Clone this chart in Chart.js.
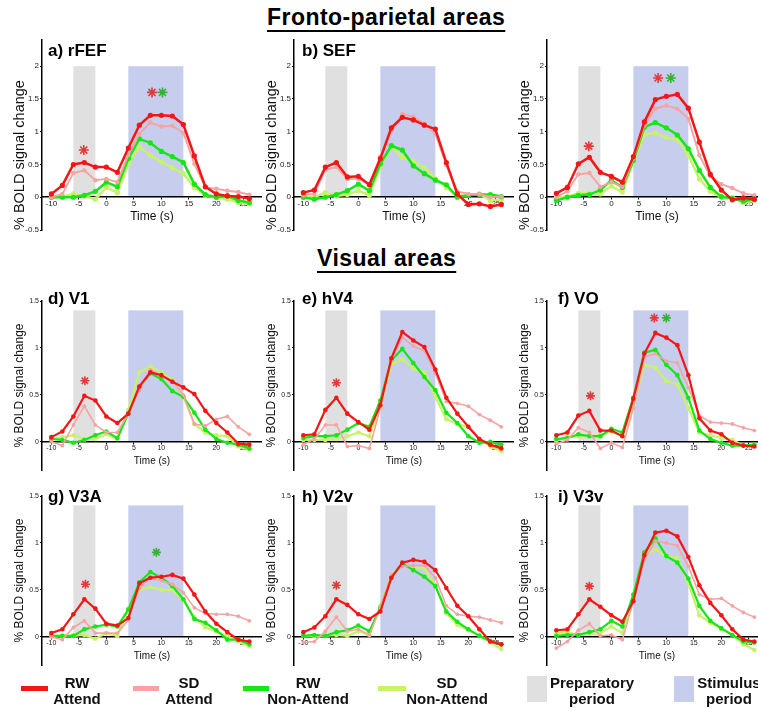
<!DOCTYPE html>
<html>
<head>
<meta charset="utf-8">
<script src="https://cdn.jsdelivr.net/npm/chart.js@4.4.1/dist/chart.umd.min.js"></script>
<style>
  body { margin: 0; width: 758px; height: 709px; background: #fff; position: relative; overflow: hidden;
         font-family: "Liberation Sans", Arial, sans-serif; color: #000; }
  .head { position: absolute; font-weight: bold; font-size: 23px; line-height: 23px; white-space: nowrap; letter-spacing: 0.45px;
          text-decoration: underline; text-decoration-thickness: 2px; text-underline-offset: 5px; }
  .ptitle { position: absolute; font-weight: bold; font-size: 17px; line-height: 17px; white-space: nowrap; }
  .panel { position: absolute; }
  .legline { position: absolute; height: 5px; }
  .legbox { position: absolute; }
  .legtext { position: absolute; width: 110px; text-align: center; font-weight: bold; font-size: 15px;
             line-height: 16px; color: #111; }
</style>
</head>
<body>
<div class="head" style="left:267px; top:6px;">Fronto-parietal areas</div>
<div class="head" style="left:317px; top:247px;">Visual areas</div>

<script>
// time axis (s)
const timePoints = [-10, -8, -6, -4, -2, 0, 2, 4, 6, 8, 10, 12, 14, 16, 18, 20, 22, 24, 26];
const xTickValues = [-10, -5, 0, 5, 10, 15, 20, 25];
const yTicksFronto = [-0.5, 0, 0.5, 1, 1.5, 2];
const yTicksVisual = [0, 0.5, 1, 1.5];
const prepPeriod = [-6, -2];
const stimPeriod = [4, 14];

// a) rFEF
const rfefRwAtt = [0.05, 0.18, 0.5, 0.53, 0.46, 0.46, 0.38, 0.75, 1.1, 1.25, 1.25, 1.24, 1.11, 0.63, 0.16, 0.05, 0.02, 0.01, -0.02];
const rfefSdAtt = [0, 0.05, 0.37, 0.41, 0.26, 0.28, 0.23, 0.65, 0.97, 1.14, 1.08, 1.09, 0.98, 0.51, 0.15, 0.13, 0.1, 0.08, 0.04];
const rfefRwNon = [0, 0, 0, 0.03, 0.09, 0.23, 0.16, 0.59, 0.89, 0.83, 0.7, 0.62, 0.53, 0.2, 0.04, 0, 0.02, -0.05, -0.08];
const rfefSdNon = [0, 0.01, 0.05, 0.02, -0.03, 0.15, 0.07, 0.51, 0.77, 0.64, 0.54, 0.45, 0.36, 0.15, 0.03, 0, -0.03, -0.08, -0.1];
// b) SEF
const sefRwAtt = [0.07, 0.11, 0.46, 0.53, 0.31, 0.32, 0.19, 0.59, 1.06, 1.22, 1.18, 1.1, 1.04, 0.53, 0.05, -0.11, -0.1, -0.14, -0.11];
const sefSdAtt = [0.03, 0.05, 0.42, 0.46, 0.28, 0.28, 0.2, 0.62, 1.02, 1.27, 1.23, 1.12, 0.97, 0.49, 0.09, 0.05, 0.05, 0, 0.01];
const sefRwNon = [0, -0.03, 0, 0.04, 0.1, 0.2, 0.1, 0.51, 0.79, 0.72, 0.48, 0.36, 0.26, 0.19, 0, 0.03, 0.04, 0.04, 0.01];
const sefSdNon = [0, 0, 0.07, 0.02, 0.04, 0.1, 0.03, 0.48, 0.77, 0.61, 0.55, 0.45, 0.28, 0.15, 0.02, 0.04, 0.05, -0.05, -0.03];
// c) (untitled third fronto-parietal panel)
const cRwAtt = [0.06, 0.15, 0.51, 0.61, 0.38, 0.32, 0.23, 0.62, 1.15, 1.49, 1.54, 1.57, 1.36, 0.84, 0.35, 0.11, -0.04, -0.01, -0.03];
const cSdAtt = [0, 0.09, 0.35, 0.37, 0.16, 0.23, 0.16, 0.59, 1.1, 1.35, 1.4, 1.35, 1.2, 0.64, 0.32, 0.2, 0.14, 0.06, 0.03];
const cRwNon = [-0.05, 0, 0.03, 0.04, 0.11, 0.26, 0.15, 0.56, 1.07, 1.14, 1.06, 0.95, 0.74, 0.41, 0.15, 0.01, -0.02, -0.06, -0.03];
const cSdNon = [0, 0.01, 0.06, 0.06, 0.05, 0.17, 0.08, 0.54, 0.96, 0.98, 0.91, 0.88, 0.64, 0.28, 0.09, 0, 0, -0.08, -0.05];
// d) V1
const v1RwAtt = [0.05, 0.11, 0.27, 0.49, 0.44, 0.27, 0.2, 0.3, 0.59, 0.74, 0.71, 0.64, 0.58, 0.51, 0.33, 0.2, 0.1, -0.02, -0.03];
const v1SdAtt = [0, -0.04, 0.18, 0.38, 0.18, 0.1, 0.1, 0.3, 0.55, 0.77, 0.71, 0.65, 0.5, 0.19, 0.17, 0.24, 0.27, 0.16, 0.08];
const v1RwNon = [0.03, 0.02, -0.01, 0.02, 0.07, 0.11, 0.04, 0.3, 0.58, 0.73, 0.67, 0.54, 0.48, 0.31, 0.13, 0.03, -0.01, -0.03, -0.07];
const v1SdNon = [0.03, 0.05, 0.07, 0.03, 0.03, 0.08, 0.03, 0.34, 0.74, 0.8, 0.74, 0.66, 0.48, 0.19, 0.1, 0.07, 0.06, -0.05, -0.08];
// e) hV4
const hv4RwAtt = [0.07, 0.08, 0.34, 0.47, 0.3, 0.21, 0.13, 0.39, 0.89, 1.17, 1.08, 1.01, 0.77, 0.47, 0.3, 0.16, 0.03, -0.03, -0.07];
const hv4SdAtt = [-0.03, 0.03, 0.18, 0.18, -0.05, -0.04, -0.07, 0.36, 0.87, 1.11, 1.02, 0.97, 0.73, 0.43, 0.41, 0.38, 0.29, 0.23, 0.16];
const hv4RwNon = [0.04, 0.06, 0.06, 0.07, 0.13, 0.2, 0.16, 0.44, 0.87, 0.99, 0.84, 0.69, 0.55, 0.31, 0.2, 0.06, -0.01, 0, -0.03];
const hv4SdNon = [0.02, 0.02, 0.02, 0.03, 0.06, 0.1, 0.06, 0.37, 0.83, 0.88, 0.78, 0.74, 0.48, 0.24, 0.19, 0.16, 0.03, -0.05, -0.1];
// f) VO
const voRwAtt = [0.07, 0.1, 0.28, 0.33, 0.12, 0.12, 0.06, 0.46, 0.94, 1.16, 1.11, 1.03, 0.71, 0.25, 0.12, 0.08, -0.01, -0.04, -0.05];
const voSdAtt = [-0.02, 0.02, 0.15, 0.1, -0.07, -0.01, -0.06, 0.36, 0.9, 0.94, 0.86, 0.84, 0.58, 0.28, 0.21, 0.2, 0.19, 0.15, 0.12];
const voRwNon = [0.03, 0.04, 0.08, 0.06, 0.06, 0.14, 0.1, 0.47, 0.95, 0.98, 0.82, 0.71, 0.47, 0.12, 0.03, -0.01, -0.04, -0.04, -0.03];
const voSdNon = [0.01, 0.06, 0.06, 0.06, 0.07, 0.11, 0.06, 0.39, 0.82, 0.79, 0.65, 0.61, 0.36, 0.1, 0.07, 0.04, 0.02, -0.04, -0.03];
// g) V3A
const v3aRwAtt = [0.04, 0.08, 0.24, 0.4, 0.3, 0.14, 0.12, 0.2, 0.57, 0.63, 0.64, 0.66, 0.62, 0.45, 0.27, 0.14, 0.05, -0.03, -0.05];
const v3aSdAtt = [0, -0.03, 0.1, 0.17, 0.04, 0.04, 0.04, 0.18, 0.52, 0.63, 0.6, 0.56, 0.47, 0.31, 0.25, 0.24, 0.24, 0.22, 0.17];
const v3aRwNon = [0.01, 0.01, 0.01, 0.08, 0.11, 0.13, 0.11, 0.29, 0.58, 0.69, 0.63, 0.54, 0.4, 0.19, 0.15, 0.07, -0.03, -0.03, -0.08];
const v3aSdNon = [0.01, 0.01, 0.01, 0.02, -0.02, 0.04, 0.01, 0.3, 0.5, 0.53, 0.5, 0.5, 0.39, 0.21, 0.1, 0.06, 0.01, -0.05, -0.1];
// h) V2v
const v2vRwAtt = [0.05, 0.1, 0.22, 0.4, 0.34, 0.24, 0.19, 0.27, 0.63, 0.79, 0.82, 0.8, 0.71, 0.52, 0.33, 0.22, 0.08, -0.05, -0.08];
const v2vSdAtt = [-0.06, -0.05, 0.06, 0.21, 0.06, 0.08, 0.02, 0.31, 0.66, 0.75, 0.76, 0.76, 0.63, 0.33, 0.24, 0.22, 0.21, 0.18, 0.15];
const v2vRwNon = [0.01, 0.02, 0.01, 0.05, 0.07, 0.12, 0.06, 0.31, 0.63, 0.78, 0.71, 0.64, 0.54, 0.27, 0.16, 0.08, 0.01, -0.05, -0.08];
const v2vSdNon = [0.01, 0.01, 0.01, 0.02, 0.01, 0.06, 0.02, 0.33, 0.66, 0.76, 0.74, 0.73, 0.55, 0.25, 0.13, 0.07, 0.02, -0.06, -0.13];
// i) V3v
const v3vRwAtt = [0.07, 0.08, 0.24, 0.4, 0.32, 0.23, 0.16, 0.38, 0.87, 1.11, 1.13, 1.07, 0.85, 0.55, 0.36, 0.23, 0.08, -0.03, -0.05];
const v3vSdAtt = [-0.12, -0.05, 0.07, 0.14, 0.01, 0.02, -0.03, 0.38, 0.82, 1.02, 1.0, 0.97, 0.75, 0.45, 0.4, 0.41, 0.33, 0.26, 0.21];
const v3vRwNon = [0.01, 0.02, 0.02, 0.05, 0.08, 0.17, 0.11, 0.45, 0.9, 1.05, 0.86, 0.79, 0.62, 0.33, 0.17, 0.09, 0.02, -0.05, -0.06];
const v3vSdNon = [0.04, 0.05, 0.02, 0.04, 0.04, 0.11, 0.04, 0.41, 0.87, 0.93, 0.86, 0.84, 0.57, 0.23, 0.15, 0.09, 0.02, -0.08, -0.14];

// significance asterisks [time, value]
const rfefRedStars = [[-4.1, 0.72], [8.3, 1.6]];
const rfefGreenStars = [[10.2, 1.6]];
const cRedStars = [[-4.1, 0.78], [8.5, 1.82]];
const cGreenStars = [[10.8, 1.82]];
const v1RedStars = [[-3.9, 0.65]];
const hv4RedStars = [[-4, 0.63]];
const voRedStars = [[-3.8, 0.49], [7.8, 1.32]];
const voGreenStars = [[10, 1.32]];
const v3aRedStars = [[-3.8, 0.56]];
const v3aGreenStars = [[9.1, 0.9]];
const v2vRedStars = [[-4, 0.55]];
const v3vRedStars = [[-4, 0.54]];

const colors = { rwAtt: '#f41616', sdAtt: '#f6a3a3', rwNon: '#16e616', sdNon: '#c8f26c',
                 prep: '#e0e0e0', stim: '#c7cdec', redStar: '#e23a3a', greenStar: '#2fb52f' };

const panels = [
  { label: 'a) rFEF', row: 0, col: 0, s: [rfefRwAtt, rfefSdAtt, rfefRwNon, rfefSdNon], red: rfefRedStars, green: rfefGreenStars },
  { label: 'b) SEF', row: 0, col: 1, s: [sefRwAtt, sefSdAtt, sefRwNon, sefSdNon], red: [], green: [] },
  { label: '', row: 0, col: 2, s: [cRwAtt, cSdAtt, cRwNon, cSdNon], red: cRedStars, green: cGreenStars },
  { label: 'd) V1', row: 1, col: 0, s: [v1RwAtt, v1SdAtt, v1RwNon, v1SdNon], red: v1RedStars, green: [] },
  { label: 'e) hV4', row: 1, col: 1, s: [hv4RwAtt, hv4SdAtt, hv4RwNon, hv4SdNon], red: hv4RedStars, green: [] },
  { label: 'f) VO', row: 1, col: 2, s: [voRwAtt, voSdAtt, voRwNon, voSdNon], red: voRedStars, green: voGreenStars },
  { label: 'g) V3A', row: 2, col: 0, s: [v3aRwAtt, v3aSdAtt, v3aRwNon, v3aSdNon], red: v3aRedStars, green: v3aGreenStars },
  { label: 'h) V2v', row: 2, col: 1, s: [v2vRwAtt, v2vSdAtt, v2vRwNon, v2vSdNon], red: v2vRedStars, green: [] },
  { label: 'i) V3v', row: 2, col: 2, s: [v3vRwAtt, v3vSdAtt, v3vRwNon, v3vSdNon], red: v3vRedStars, green: [] },
];

// layout of the grid (pixels)
const axisLeft = [42, 294, 547];
const axisWidth = 42, plotWidth = 220, pad = 10;
const rows = [
  { top: 40, bottom: 230, min: -0.5, max: 2.4, shadeTop: 2, ticks: yTicksFronto, tickSize: 8, yTitle: 14.5, yAlign: 'start', xTitle: 12, lw: 2.5, r: 2.6, star: 5, labelTop: 41.6 },
  { top: 301, bottom: 470, min: -0.3, max: 1.5, shadeTop: 1.4, ticks: yTicksVisual, tickSize: 7, yTitle: 12, yAlign: 'center', xTitle: 10, lw: 2.2, r: 2.3, star: 4.5, labelTop: 289.6 },
  { top: 496, bottom: 665, min: -0.3, max: 1.5, shadeTop: 1.4, ticks: yTicksVisual, tickSize: 7, yTitle: 12, yAlign: 'center', xTitle: 10, lw: 2.2, r: 2.3, star: 4.5, labelTop: 487.6 },
];
const titleLeft = [48, 302, 558];

const periodShading = {
  id: 'periodShading',
  beforeDraw(chart, args, opts) {
    const { ctx, scales: { x, y } } = chart;
    const y0 = y.getPixelForValue(0), y1 = y.getPixelForValue(opts.top);
    ctx.save();
    ctx.fillStyle = colors.prep;
    ctx.fillRect(x.getPixelForValue(prepPeriod[0]), y1, x.getPixelForValue(prepPeriod[1]) - x.getPixelForValue(prepPeriod[0]), y0 - y1);
    ctx.fillStyle = colors.stim;
    ctx.fillRect(x.getPixelForValue(stimPeriod[0]), y1, x.getPixelForValue(stimPeriod[1]) - x.getPixelForValue(stimPeriod[0]), y0 - y1);
    ctx.restore();
  }
};

function lineSet(values, color, width, radius) {
  return {
    data: values.map((v, i) => ({ x: timePoints[i], y: v })),
    borderColor: color, backgroundColor: color, borderWidth: width,
    pointRadius: radius, pointBackgroundColor: color, pointBorderWidth: 0, pointHoverRadius: radius,
    tension: 0
  };
}

function starSet(points, color, radius) {
  return {
    data: points.map(p => ({ x: p[0], y: p[1] })),
    showLine: false, pointStyle: 'star', pointRadius: radius, pointHoverRadius: radius,
    borderColor: color, pointBorderColor: color, pointBorderWidth: 1.6
  };
}

panels.forEach(p => {
  const R = rows[p.row];
  const div = document.createElement('div');
  div.className = 'panel';
  div.style.left = (axisLeft[p.col] - axisWidth) + 'px';
  div.style.top = (R.top - pad) + 'px';
  const canvas = document.createElement('canvas');
  canvas.width = axisWidth + plotWidth;
  canvas.height = R.bottom - R.top + 2 * pad;
  div.appendChild(canvas);
  document.body.appendChild(div);

  if (p.label) {
    const t = document.createElement('div');
    t.className = 'ptitle';
    t.style.left = titleLeft[p.col] + 'px';
    t.style.top = R.labelTop + 'px';
    t.textContent = p.label;
    document.body.appendChild(t);
  }

  new Chart(canvas.getContext('2d'), {
    type: 'line',
    data: {
      datasets: [
        starSet(p.red, colors.redStar, R.star),
        starSet(p.green, colors.greenStar, R.star),
        lineSet(p.s[0], colors.rwAtt, R.lw, R.r),
        lineSet(p.s[1], colors.sdAtt, R.lw - 0.6, R.r - 0.4),
        lineSet(p.s[2], colors.rwNon, R.lw, R.r),
        lineSet(p.s[3], colors.sdNon, R.lw, R.r),
      ]
    },
    options: {
      responsive: false,
      animation: false,
      devicePixelRatio: 1,
      layout: { autoPadding: false, padding: { top: pad, bottom: pad, left: 0, right: 0 } },
      scales: {
        x: {
          type: 'linear', min: -11.7, max: 28.3, position: { y: 0 },
          afterBuildTicks: s => { s.ticks = xTickValues.map(v => ({ value: v })); },
          afterFit: s => { s.paddingLeft = 0; s.paddingRight = 0; },
          grid: { drawOnChartArea: false, tickLength: 2, color: '#000' },
          border: { color: '#000', width: 1.5 },
          ticks: { font: { family: 'Liberation Sans', size: R.tickSize, lineHeight: 1 }, color: '#222',
                   padding: 1, maxRotation: 0, autoSkip: false, callback: v => String(v) },
          title: { display: true, text: 'Time (s)', color: '#111',
                   font: { family: 'Liberation Sans', size: R.xTitle }, padding: { top: p.row ? 2 : 0, bottom: 0 } }
        },
        y: {
          min: R.min, max: R.max,
          afterBuildTicks: s => { s.ticks = R.ticks.map(v => ({ value: v })); },
          afterFit: s => { s.width = axisWidth; s.paddingTop = 0; s.paddingBottom = 0; },
          grid: { drawOnChartArea: false, tickLength: 2, color: '#000' },
          border: { color: '#000', width: 1.5 },
          ticks: { font: { family: 'Liberation Sans', size: R.tickSize }, color: '#222', padding: 1,
                   callback: v => String(v) },
          title: { display: true, text: '% BOLD signal change', align: R.yAlign, color: '#111',
                   font: { family: 'Liberation Sans', size: R.yTitle },
                   padding: { top: 20 - R.yTitle * 0.6, bottom: 0 } }
        }
      },
      plugins: {
        legend: { display: false },
        tooltip: { enabled: false },
        periodShading: { top: R.shadeTop }
      }
    },
    plugins: [periodShading]
  });
});

// legend
const legendLines = [
  { color: colors.rwAtt, left: 21, width: 27, text: 'RW<br>Attend', center: 77 },
  { color: colors.sdAtt, left: 133, width: 26, text: 'SD<br>Attend', center: 189 },
  { color: colors.rwNon, left: 243, width: 26, text: 'RW<br>Non-Attend', center: 308 },
  { color: colors.sdNon, left: 378, width: 28, text: 'SD<br>Non-Attend', center: 447 },
];
const legendBoxes = [
  { color: colors.prep, left: 527, text: 'Preparatory<br>period', center: 592 },
  { color: colors.stim, left: 674, text: 'Stimulus<br>period', center: 729 },
];
legendLines.forEach(l => {
  const ln = document.createElement('div');
  ln.className = 'legline';
  Object.assign(ln.style, { left: l.left + 'px', width: l.width + 'px', top: '686px', background: l.color });
  document.body.appendChild(ln);
});
legendBoxes.forEach(l => {
  const bx = document.createElement('div');
  bx.className = 'legbox';
  Object.assign(bx.style, { left: l.left + 'px', width: '20px', top: '676px', height: '26px', background: l.color });
  document.body.appendChild(bx);
});
legendLines.concat(legendBoxes).forEach(l => {
  const tx = document.createElement('div');
  tx.className = 'legtext';
  tx.style.left = (l.center - 55) + 'px';
  tx.style.top = '675px';
  tx.innerHTML = l.text;
  document.body.appendChild(tx);
});
</script>
</body>
</html>
